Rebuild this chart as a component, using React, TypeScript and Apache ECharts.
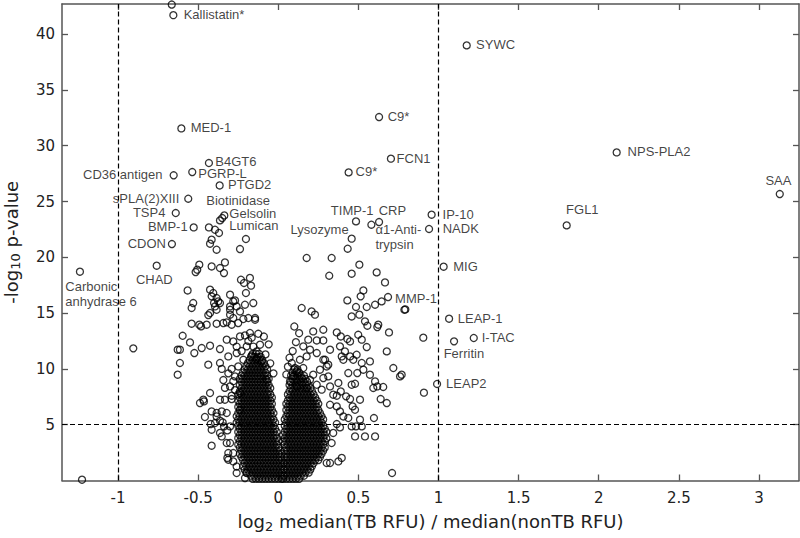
import { useEffect, useRef } from 'react';
import * as echarts from 'echarts';

// ---------- data ----------
const xTicks = [-1, -0.5, 0, 0.5, 1, 1.5, 2, 2.5, 3];
const yTicks = [5, 10, 15, 20, 25, 30, 35, 40];
const foldThresholds = [-1, 1];
const pThreshold = 5;

const labelNames = [
  'Kallistatin*', 'MED-1', 'B4GT6', 'CD36 antigen', 'PGRP-L', 'PTGD2', 'sPLA(2)XIII', 'TSP4',
  'Biotinidase', 'Gelsolin', 'Lumican', 'BMP-1', 'CDON', 'CHAD', 'Carbonic\nanhydrase 6',
  'SYWC', 'C9*', 'FCN1', 'C9*', 'TIMP-1', 'CRP', 'α1-Anti-\ntrypsin', 'Lysozyme', 'IP-10', 'NADK',
  'FGL1', 'NPS-PLA2', 'SAA', 'MIG', 'MMP-1', 'LEAP-1', 'I-TAC', 'Ferritin', 'LEAP2',
];
const labelX = [
  -0.655, -0.605, -0.433, -0.653, -0.537, -0.366, -0.562, -0.640,
  -0.350, -0.337, -0.364, -0.528, -0.664, -0.759, -1.238,
  1.176, 0.629, 0.703, 0.439, 0.485, 0.629, 0.581, 0.458, 0.957, 0.941,
  1.800, 2.112, 3.130, 1.032, 0.685, 1.066, 1.220, 1.097, 0.991,
];
const labelY = [
  41.7, 31.55, 28.45, 27.35, 27.64, 26.44, 25.25, 23.97,
  23.52, 23.75, 23.31, 22.68, 21.19, 19.25, 18.71,
  38.99, 32.57, 28.84, 27.61, 23.22, 23.16, 22.92, 21.67, 23.82, 22.54,
  22.86, 29.40, 25.67, 19.16, 16.44, 14.50, 12.77, 12.47, 8.65,
];

const outliers: [number, number][] = [
  [-0.665, 42.65], [-0.905, 11.84], [-1.225, 0.07], [0.905, 12.8], [0.909, 7.87], [0.793, 15.33], [0.710, 0.67],
];

const scatterLeft: [number, number][] = [
  [-0.433, 22.68], [-0.395, 22.47], [-0.370, 22.18], [-0.416, 21.58], [-0.426, 21.22], [-0.385, 20.68],
  [-0.202, 21.64], [-0.239, 20.74], [-0.493, 19.34], [-0.506, 18.89], [-0.416, 19.18], [-0.364, 19.04],
  [-0.333, 19.54], [-0.339, 18.59], [-0.233, 17.99], [-0.177, 18.15], [-0.214, 17.70], [-0.170, 17.46],
  [-0.202, 16.80], [-0.566, 17.03], [-0.426, 17.10], [-0.416, 16.50], [-0.385, 16.35], [-0.401, 15.90],
  [-0.375, 16.05], [-0.270, 16.14], [-0.301, 15.60], [-0.531, 15.90], [-0.541, 15.46], [-0.426, 15.01],
  [-0.385, 15.30], [-0.281, 14.56], [-0.187, 14.56], [-0.145, 14.56], [-0.516, 18.68], [-0.406, 16.80],
  [-0.364, 15.90], [-0.395, 15.60], [-0.437, 14.82], [-0.301, 16.65], [-0.281, 16.05], [-0.260, 15.60],
  [-0.301, 15.30], [-0.239, 15.15], [-0.208, 15.75], [-0.156, 15.90], [-0.322, 14.17],
  [-0.541, 14.05], [-0.493, 13.96], [-0.447, 13.96], [-0.385, 14.05], [-0.343, 14.11], [-0.291, 13.96],
  [-0.250, 14.11], [-0.218, 14.47], [-0.145, 14.41], [-0.482, 13.81], [-0.301, 14.86], [-0.125, 13.15],
  [-0.597, 12.97], [-0.551, 12.37], [-0.614, 11.72], [-0.628, 11.72], [-0.524, 11.42], [-0.478, 11.87],
  [-0.426, 12.08], [-0.364, 11.78], [-0.322, 12.62], [-0.281, 12.46], [-0.239, 12.91], [-0.177, 13.22],
  [-0.614, 10.53], [-0.628, 9.48], [-0.437, 10.38], [-0.364, 10.53], [-0.312, 11.12], [-0.260, 11.42],
  [-0.197, 12.02], [-0.135, 11.57], [-0.114, 12.17], [-0.104, 10.67], [-0.072, 9.03], [-0.426, 7.84],
  [-0.468, 7.24], [-0.489, 6.94], [-0.464, 7.09], [-0.364, 7.24], [-0.333, 7.24], [-0.291, 7.30],
  [-0.416, 6.19], [-0.458, 5.69], [-0.385, 5.74], [-0.364, 5.36], [-0.339, 4.85], [-0.318, 4.49],
  [-0.416, 4.55], [-0.422, 5.06], [-0.353, 3.95], [-0.416, 3.12], [-0.301, 3.36], [-0.312, 2.46],
  [-0.318, 2.02], [-0.281, 1.71], [-0.260, 0.67], [-0.208, 0.22], [-0.395, 5.15], [-0.239, 7.84],
  [-0.239, 6.34], [-0.270, 9.33], [-0.250, 10.22], [-0.218, 10.82], [-0.301, 8.43], [-0.322, 6.05],
  [-0.385, 6.05], [-0.353, 6.19], [-0.347, 5.21], [-0.364, 4.26], [-0.301, 4.85], [-0.322, 3.36],
  [-0.281, 2.46], [-0.312, 1.86], [-0.260, 1.26], [-0.197, 0.67], [-0.291, 10.0], [-0.281, 8.9],
  [-0.270, 8.1], [-0.291, 7.6], [-0.312, 9.6], [-0.343, 9.0], [-0.333, 8.3], [-0.353, 10.0],
  [-0.260, 12.0], [-0.229, 11.6], [-0.208, 13.0], [-0.187, 12.5], [-0.166, 12.8], [-0.156, 12.0],
  [-0.166, 11.2], [-0.135, 10.9], [-0.05, 10.5], [-0.03, 9.6], [-0.08, 11.3], [-0.06, 12.2], [-0.09, 12.9],
];

const scatterRight: [number, number][] = [
  [0.433, 20.77], [0.177, 19.94], [0.333, 19.94], [0.506, 19.34], [0.318, 18.35], [0.458, 18.53],
  [0.614, 18.65], [0.666, 17.75], [0.531, 17.03], [0.431, 16.14], [0.514, 16.50], [0.485, 15.55],
  [0.552, 15.55], [0.604, 15.75], [0.645, 16.05], [0.787, 15.30], [0.146, 15.46], [0.208, 15.15],
  [0.229, 14.86], [0.458, 14.70], [0.506, 14.86], [0.541, 14.26], [0.556, 13.87], [0.618, 13.75],
  [0.624, 13.96], [0.691, 13.27], [0.218, 13.36], [0.281, 13.51], [0.365, 13.27], [0.390, 12.91],
  [0.448, 12.46], [0.431, 12.68], [0.499, 13.06], [0.521, 12.62], [0.187, 12.62], [0.240, 12.55],
  [0.281, 12.55], [0.552, 11.96], [0.677, 11.57], [0.385, 12.02], [0.416, 11.57], [0.448, 11.12],
  [0.468, 10.82], [0.323, 11.72], [0.292, 10.82], [0.312, 10.38], [0.521, 10.53], [0.572, 10.67],
  [0.489, 11.27], [0.396, 11.12], [0.406, 10.82], [0.718, 10.08], [0.770, 9.48], [0.760, 9.33],
  [0.437, 9.63], [0.493, 9.63], [0.531, 9.93], [0.572, 9.48], [0.604, 8.88], [0.458, 8.58],
  [0.479, 8.67], [0.593, 8.29], [0.618, 8.43], [0.655, 8.38], [0.375, 8.74], [0.390, 7.98],
  [0.365, 7.60], [0.423, 7.54], [0.448, 7.30], [0.510, 7.24], [0.639, 7.30], [0.677, 6.94],
  [0.479, 6.34], [0.464, 6.64], [0.597, 5.60], [0.510, 5.45], [0.485, 4.85], [0.458, 4.85],
  [0.521, 4.85], [0.479, 3.95], [0.541, 3.95], [0.604, 3.95], [0.396, 2.02], [0.375, 1.71],
  [0.323, 1.57], [0.302, 1.57], [0.406, 5.74], [0.437, 5.60], [0.365, 5.06], [0.385, 4.76],
  [0.343, 4.26], [0.333, 3.36], [0.156, 12.02], [0.198, 11.72], [0.240, 11.42], [0.177, 11.12],
  [0.281, 10.82], [0.302, 10.22], [0.260, 9.93], [0.218, 9.48], [0.156, 10.08], [0.115, 9.78],
  [0.094, 9.33], [0.146, 9.18], [0.198, 9.03], [0.073, 8.88], [0.115, 8.43], [0.177, 8.29],
  [0.240, 8.58], [0.281, 9.18], [0.312, 9.33], [0.271, 8.14], [0.323, 8.43], [0.343, 7.69],
  [0.365, 6.64], [0.385, 6.19], [0.323, 6.79], [0.104, 10.08], [0.084, 10.53], [0.135, 10.82],
  [0.06, 10.2], [0.05, 9.5], [0.07, 11.0], [0.09, 11.6], [0.11, 12.4], [0.13, 13.2], [0.10, 13.8],
];

// dense core of the volcano (solid black in the picture): rows of [y, x values]
const coreLeftRows: [number, number[]][] = [
  [0.15, [-.16, -.14, -.12, -.1, -.08, -.06, -.04, -.02, 0, .02]],
  [0.43, [-.17, -.15, -.13, -.11, -.09, -.07, -.05, -.03, -.01, .01, .03]],
  [0.71, [-.2, -.18, -.16, -.14, -.12, -.1, -.08, -.06, -.04, -.02, 0, .02]],
  [0.99, [-.21, -.19, -.17, -.15, -.13, -.11, -.09, -.07, -.05, -.03, -.01, .01, .03]],
  [1.27, [-.22, -.2, -.18, -.16, -.14, -.12, -.1, -.08, -.06, -.04, -.02, 0, .02]],
  [1.55, [-.21, -.19, -.17, -.15, -.13, -.11, -.09, -.07, -.05, -.03, -.01, .01, .03]],
  [1.83, [-.22, -.2, -.18, -.16, -.14, -.12, -.1, -.08, -.06, -.04, -.02, 0, .02]],
  [2.11, [-.23, -.21, -.19, -.17, -.15, -.13, -.11, -.09, -.07, -.05, -.03, -.01, .01]],
  [2.39, [-.24, -.22, -.2, -.18, -.16, -.14, -.12, -.1, -.08, -.06, -.04, -.02, 0, .02]],
  [2.67, [-.23, -.21, -.19, -.17, -.15, -.13, -.11, -.09, -.07, -.05, -.03, -.01, .01]],
  [2.95, [-.24, -.22, -.2, -.18, -.16, -.14, -.12, -.1, -.08, -.06, -.04, -.02, 0]],
  [3.23, [-.25, -.23, -.21, -.19, -.17, -.15, -.13, -.11, -.09, -.07, -.05, -.03, -.01]],
  [3.51, [-.24, -.22, -.2, -.18, -.16, -.14, -.12, -.1, -.08, -.06, -.04, -.02, 0]],
  [3.79, [-.25, -.23, -.21, -.19, -.17, -.15, -.13, -.11, -.09, -.07, -.05, -.03, -.01]],
  [4.07, [-.24, -.22, -.2, -.18, -.16, -.14, -.12, -.1, -.08, -.06, -.04, -.02]],
  [4.35, [-.25, -.23, -.21, -.19, -.17, -.15, -.13, -.11, -.09, -.07, -.05, -.03, -.01]],
  [4.63, [-.24, -.22, -.2, -.18, -.16, -.14, -.12, -.1, -.08, -.06, -.04, -.02]],
  [4.91, [-.25, -.23, -.21, -.19, -.17, -.15, -.13, -.11, -.09, -.07, -.05, -.03]],
  [5.19, [-.26, -.24, -.22, -.2, -.18, -.16, -.14, -.12, -.1, -.08, -.06, -.04, -.02]],
  [5.47, [-.25, -.23, -.21, -.19, -.17, -.15, -.13, -.11, -.09, -.07, -.05, -.03]],
  [5.75, [-.26, -.24, -.22, -.2, -.18, -.16, -.14, -.12, -.1, -.08, -.06, -.04]],
  [6.03, [-.25, -.23, -.21, -.19, -.17, -.15, -.13, -.11, -.09, -.07, -.05, -.03]],
  [6.31, [-.24, -.22, -.2, -.18, -.16, -.14, -.12, -.1, -.08, -.06, -.04]],
  [6.59, [-.25, -.23, -.21, -.19, -.17, -.15, -.13, -.11, -.09, -.07, -.05]],
  [6.87, [-.24, -.22, -.2, -.18, -.16, -.14, -.12, -.1, -.08, -.06, -.04]],
  [7.15, [-.25, -.23, -.21, -.19, -.17, -.15, -.13, -.11, -.09, -.07, -.05]],
  [7.43, [-.24, -.22, -.2, -.18, -.16, -.14, -.12, -.1, -.08, -.06, -.04]],
  [7.71, [-.25, -.23, -.21, -.19, -.17, -.15, -.13, -.11, -.09, -.07, -.05]],
  [7.99, [-.24, -.22, -.2, -.18, -.16, -.14, -.12, -.1, -.08, -.06]],
  [8.27, [-.23, -.21, -.19, -.17, -.15, -.13, -.11, -.09, -.07, -.05]],
  [8.55, [-.24, -.22, -.2, -.18, -.16, -.14, -.12, -.1, -.08, -.06]],
  [8.83, [-.23, -.21, -.19, -.17, -.15, -.13, -.11, -.09, -.07]],
  [9.11, [-.24, -.22, -.2, -.18, -.16, -.14, -.12, -.1, -.08, -.06]],
  [9.39, [-.23, -.21, -.19, -.17, -.15, -.13, -.11, -.09, -.07]],
  [9.67, [-.22, -.2, -.18, -.16, -.14, -.12, -.1, -.08]],
  [9.95, [-.21, -.19, -.17, -.15, -.13, -.11, -.09, -.07]],
  [10.23, [-.2, -.18, -.16, -.14, -.12, -.1, -.08]],
  [10.51, [-.19, -.17, -.15, -.13, -.11, -.09]],
  [10.79, [-.18, -.16, -.14, -.12, -.1]],
  [11.07, [-.17, -.15, -.13, -.11]],
  [11.35, [-.16, -.14, -.12]],
];

const coreRightRows: [number, number[]][] = [
  [0.15, [.03, .05, .07, .09, .11, .13]],
  [0.43, [.04, .06, .08, .1, .12, .14, .16]],
  [0.71, [.05, .07, .09, .11, .13, .15, .17, .19]],
  [0.99, [.04, .06, .08, .1, .12, .14, .16, .18, .2]],
  [1.27, [.05, .07, .09, .11, .13, .15, .17, .19, .21]],
  [1.55, [.04, .06, .08, .1, .12, .14, .16, .18, .2, .22]],
  [1.83, [.05, .07, .09, .11, .13, .15, .17, .19, .21, .23, .25]],
  [2.11, [.04, .06, .08, .1, .12, .14, .16, .18, .2, .22, .24, .26]],
  [2.39, [.05, .07, .09, .11, .13, .15, .17, .19, .21, .23, .25, .27]],
  [2.67, [.04, .06, .08, .1, .12, .14, .16, .18, .2, .22, .24, .26, .28]],
  [2.95, [.05, .07, .09, .11, .13, .15, .17, .19, .21, .23, .25, .27, .29]],
  [3.23, [.04, .06, .08, .1, .12, .14, .16, .18, .2, .22, .24, .26, .28]],
  [3.51, [.03, .05, .07, .09, .11, .13, .15, .17, .19, .21, .23, .25, .27, .29]],
  [3.79, [.04, .06, .08, .1, .12, .14, .16, .18, .2, .22, .24, .26, .28, .3]],
  [4.07, [.03, .05, .07, .09, .11, .13, .15, .17, .19, .21, .23, .25, .27, .29]],
  [4.35, [.04, .06, .08, .1, .12, .14, .16, .18, .2, .22, .24, .26, .28, .3]],
  [4.63, [.05, .07, .09, .11, .13, .15, .17, .19, .21, .23, .25, .27, .29]],
  [4.91, [.04, .06, .08, .1, .12, .14, .16, .18, .2, .22, .24, .26, .28]],
  [5.19, [.05, .07, .09, .11, .13, .15, .17, .19, .21, .23, .25, .27]],
  [5.47, [.04, .06, .08, .1, .12, .14, .16, .18, .2, .22, .24, .26, .28]],
  [5.75, [.05, .07, .09, .11, .13, .15, .17, .19, .21, .23, .25, .27]],
  [6.03, [.06, .08, .1, .12, .14, .16, .18, .2, .22, .24, .26]],
  [6.31, [.05, .07, .09, .11, .13, .15, .17, .19, .21, .23, .25]],
  [6.59, [.06, .08, .1, .12, .14, .16, .18, .2, .22, .24]],
  [6.87, [.05, .07, .09, .11, .13, .15, .17, .19, .21, .23, .25]],
  [7.15, [.06, .08, .1, .12, .14, .16, .18, .2, .22, .24]],
  [7.43, [.07, .09, .11, .13, .15, .17, .19, .21, .23]],
  [7.71, [.06, .08, .1, .12, .14, .16, .18, .2, .22]],
  [7.99, [.07, .09, .11, .13, .15, .17, .19, .21]],
  [8.27, [.08, .1, .12, .14, .16, .18, .2]],
  [8.55, [.07, .09, .11, .13, .15, .17, .19]],
  [8.83, [.08, .1, .12, .14, .16, .18]],
  [9.11, [.09, .11, .13, .15, .17]],
  [9.39, [.08, .1, .12, .14, .16]],
  [9.67, [.09, .11, .13]],
  [9.95, [.1, .12]],
];

// ---------- styling ----------
const SYM = 7;
// label anchor relative to the point centre (pixels), index-aligned with labelNames
const at = (dx: number, dy: number, align = 'left', verticalAlign = 'middle', extra: any = {}) => ({
  position: [SYM / 2 + dx, SYM / 2 + dy],
  align,
  verticalAlign,
  ...extra,
});
const labelLayout: any[] = [
  at(11, 0),
  at(10, 0),
  at(7, -1),
  at(-10.5, 0, 'right'),
  at(6.7, 2.5),
  at(9, 0),
  at(-8.3, 0, 'right'),
  at(-9.7, 0, 'right'),
  at(-15.3, -16.5),
  at(5.7, -1.4),
  at(10, 5.8),
  at(-5.4, 0, 'right'),
  at(-5.3, 0, 'right'),
  at(-1.7, 14, 'center'),
  at(-14, 7.5, 'left', 'top', { lineHeight: 15 }),
  at(10, 0),
  at(9.3, 0),
  at(6.3, 0),
  at(7.6, 0),
  at(-3.2, -10.7, 'center'),
  at(14, -11.3, 'center'),
  at(4.7, -2.5, 'left', 'top', { lineHeight: 15 }),
  at(-2.4, -8.3, 'right'),
  at(11.6, 0),
  at(14.3, 0),
  at(16.3, -15.7, 'center'),
  at(11.6, 0),
  at(-0.7, -13.3, 'center'),
  at(10.3, 0),
  at(7.7, 2),
  at(9.3, 0),
  at(8.6, 0),
  at(10.5, 13.3, 'center'),
  at(9.7, 0),
];

export default function App() {
  const ref = useRef<HTMLDivElement>(null);

  useEffect(() => {
    document.body.style.margin = '0';
    if (!ref.current) return;
    const chart = echarts.init(ref.current, null, { renderer: 'svg' });

    const core = [
      ...coreLeftRows.flatMap(([y, xs]) => xs.map((x) => [x, y])),
      ...coreRightRows.flatMap(([y, xs]) => xs.map((x) => [x, y])),
    ];
    const plain = [...outliers, ...scatterLeft, ...scatterRight, ...core];

    const labelled = labelNames.map((n, i) => ({
      name: n,
      value: [labelX[i], labelY[i]],
      label: {
        show: true,
        formatter: n,
        fontFamily: 'Liberation Sans, Arial, sans-serif',
        fontSize: 13,
        lineHeight: 11,
        color: '#111',
        ...labelLayout[i],
      },
    }));

    const axisColor = '#555';
    const tickFont = { fontFamily: 'DejaVu Sans', fontSize: 15, color: '#222' };
    const markerStyle = {
      color: 'rgba(0,0,0,0)',
      borderColor: '#000',
      borderWidth: 1.3,
    };
    const nameStyle = {
      fontFamily: 'DejaVu Sans',
      fontSize: 18,
      color: '#222',
      rich: { sub: { fontFamily: 'DejaVu Sans', fontSize: 13, color: '#222', padding: [9, 0, 0, 0] } },
    };
    const frameAxis = {
      axisLine: { show: true, onZero: false, lineStyle: { color: axisColor, width: 1.5 } },
      splitLine: { show: false },
    };

    chart.setOption({
      animation: false,
      backgroundColor: '#fff',
      grid: { left: 62, right: 1, top: 4, bottom: 57.5, outerBoundsMode: 'none', containLabel: false },
      xAxis: [
        {
          type: 'value',
          min: -1.35,
          max: 3.25,
          position: 'bottom',
          ...frameAxis,
          axisTick: { show: true, inside: true, length: 6, customValues: xTicks, lineStyle: { color: axisColor, width: 1.3 } },
          axisLabel: { customValues: xTicks, margin: 10, ...tickFont, formatter: (v: number) => String(v) },
          name: 'log{sub|2} median(TB RFU) / median(nonTB RFU)',
          nameLocation: 'middle',
          nameGap: 30,
          nameTextStyle: nameStyle,
        },
        {
          type: 'value',
          min: -1.35,
          max: 3.25,
          position: 'top',
          ...frameAxis,
          axisTick: { show: true, inside: true, length: 6, customValues: xTicks, lineStyle: { color: axisColor, width: 1.3 } },
          axisLabel: { show: false },
        },
      ],
      yAxis: [
        {
          type: 'value',
          min: 0,
          max: 42.7,
          position: 'left',
          ...frameAxis,
          axisTick: { show: true, inside: true, length: 6, customValues: yTicks, lineStyle: { color: axisColor, width: 1.3 } },
          axisLabel: { customValues: yTicks, margin: 7, ...tickFont },
          name: '-log{sub|10} p-value',
          nameLocation: 'middle',
          nameRotate: 90,
          nameGap: 40,
          nameTextStyle: nameStyle,
        },
        {
          type: 'value',
          min: 0,
          max: 42.7,
          position: 'right',
          ...frameAxis,
          axisTick: { show: true, inside: true, length: 6, customValues: yTicks, lineStyle: { color: axisColor, width: 1.3 } },
          axisLabel: { show: false },
        },
      ],
      series: [
        {
          type: 'scatter',
          symbol: 'circle',
          symbolSize: SYM,
          itemStyle: markerStyle,
          data: plain,
          silent: true,
          clip: false,
          emphasis: { disabled: true },
          markLine: {
            silent: true,
            symbol: 'none',
            label: { show: false },
            lineStyle: { color: '#000', type: [5, 3], width: 1.2 },
            data: [...foldThresholds.map((v) => ({ xAxis: v })), { yAxis: pThreshold }],
          },
        },
        {
          type: 'scatter',
          symbol: 'circle',
          symbolSize: SYM,
          itemStyle: markerStyle,
          data: labelled,
          silent: true,
          clip: false,
          emphasis: { disabled: true },
          labelLayout: { hideOverlap: false },
        },
      ],
    });

    return () => chart.dispose();
  }, []);

  return <div ref={ref} style={{ width: 800, height: 538 }} />;
}
